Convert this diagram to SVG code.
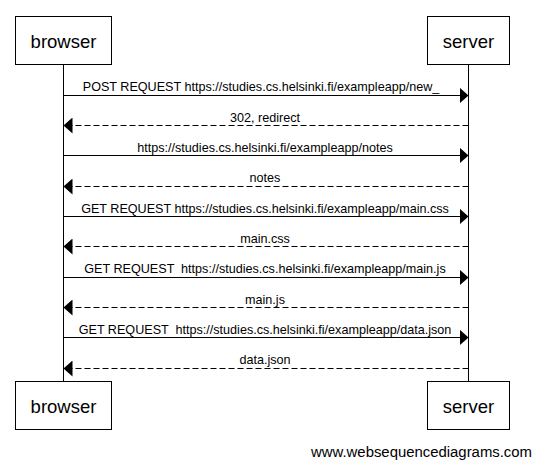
<svg xmlns="http://www.w3.org/2000/svg" width="546" height="464" viewBox="0 0 546 464">
<style>
.box{fill:#fff;stroke:#000;stroke-width:1}
.name{font-family:"Liberation Sans",Arial,sans-serif;font-size:18.5px;text-anchor:middle;fill:#000}
.lbl{font-family:"Liberation Sans",Arial,sans-serif;font-size:12.6px;text-anchor:middle;fill:#000}
.life{stroke:#000;stroke-width:1}
.msg{stroke:#000;stroke-width:1;fill:none}
.ret{stroke:#000;stroke-width:1;fill:none;stroke-dasharray:6,3}
.foot{font-family:"Liberation Sans",Arial,sans-serif;font-size:14.9px;text-anchor:end;fill:#000}
</style>
<defs>
<marker id="ah" markerWidth="10" markerHeight="16" refX="9" refY="8" orient="auto" markerUnits="userSpaceOnUse">
<polygon points="0,0 9,8 0,16" fill="#000"/>
</marker>
</defs>
<rect width="546" height="464" fill="#fff"/>
<g id="lifelines">
<line class="life" x1="63.5" y1="64" x2="63.5" y2="381"/>
<line class="life" x1="468.5" y1="64" x2="468.5" y2="381"/>
</g>
<g id="browser-top"><rect class="box" x="15.5" y="16.5" width="96" height="48"/><text class="name" x="63.5" y="47.5">browser</text></g>
<g id="server-top"><rect class="box" x="427.5" y="16.5" width="82" height="48"/><text class="name" x="468.5" y="47.5">server</text></g>
<g id="browser-bottom"><rect class="box" x="15.5" y="381.5" width="96" height="48"/><text class="name" x="63.5" y="412.5">browser</text></g>
<g id="server-bottom"><rect class="box" x="427.5" y="381.5" width="82" height="48"/><text class="name" x="468.5" y="412.5">server</text></g>
<g id="connectors">
<line class="msg" x1="63.5" y1="95.5" x2="468.5" y2="95.5" marker-end="url(#ah)"/>
<text class="lbl" x="261" y="91">POST REQUEST https://studies.cs.helsinki.fi/exampleapp/new_</text>
<line class="ret" x1="468.5" y1="125.5" x2="63.5" y2="125.5" marker-end="url(#ah)"/>
<text class="lbl" x="265" y="122">302, redirect</text>
<line class="msg" x1="63.5" y1="155.5" x2="468.5" y2="155.5" marker-end="url(#ah)"/>
<text class="lbl" x="265" y="152">https://studies.cs.helsinki.fi/exampleapp/notes</text>
<line class="ret" x1="468.5" y1="186.5" x2="63.5" y2="186.5" marker-end="url(#ah)"/>
<text class="lbl" x="265" y="182">notes</text>
<line class="msg" x1="63.5" y1="216.5" x2="468.5" y2="216.5" marker-end="url(#ah)"/>
<text class="lbl" x="265" y="213">GET REQUEST https://studies.cs.helsinki.fi/exampleapp/main.css</text>
<line class="ret" x1="468.5" y1="246.5" x2="63.5" y2="246.5" marker-end="url(#ah)"/>
<text class="lbl" x="265" y="243">main.css</text>
<line class="msg" x1="63.5" y1="277.5" x2="468.5" y2="277.5" marker-end="url(#ah)"/>
<text class="lbl" x="265" y="273" xml:space="preserve">GET REQUEST  https://studies.cs.helsinki.fi/exampleapp/main.js</text>
<line class="ret" x1="468.5" y1="307.5" x2="63.5" y2="307.5" marker-end="url(#ah)"/>
<text class="lbl" x="265" y="304">main.js</text>
<line class="msg" x1="63.5" y1="337.5" x2="468.5" y2="337.5" marker-end="url(#ah)"/>
<text class="lbl" x="265" y="334" xml:space="preserve">GET REQUEST  https://studies.cs.helsinki.fi/exampleapp/data.json</text>
<line class="ret" x1="468.5" y1="368.5" x2="63.5" y2="368.5" marker-end="url(#ah)"/>
<text class="lbl" x="265" y="364">data.json</text>
</g>
<text class="foot" x="532" y="457">www.websequencediagrams.com</text>
</svg>
